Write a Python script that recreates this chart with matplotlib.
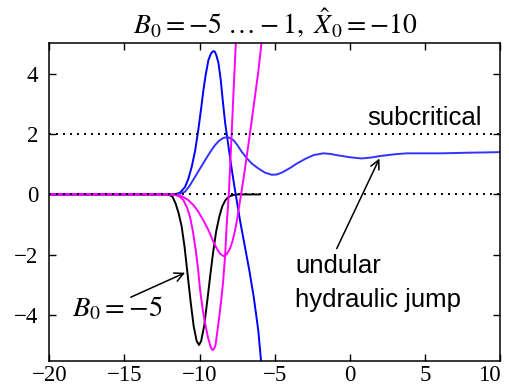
# Undular hydraulic jump curves for B0 = -5 ... -1, X0 = -10
import matplotlib
matplotlib.use('Agg')
import matplotlib.pyplot as plt

# curve values
# B0 = -5 (black)
x_b5 = [-20, -12.3, -12.0, -11.8, -11.6, -11.4, -11.2, -11.0, -10.8, -10.6, -10.4,
        -10.2, -10.04, -9.9, -9.7, -9.5, -9.3, -9.1, -8.9, -8.7, -8.5, -8.3,
        -8.1, -7.9, -7.6, -6.0]
y_b5 = [0, 0, -0.02, -0.08, -0.30, -0.62, -1.05, -1.75, -2.65, -3.55, -4.35,
        -4.85, -4.98, -4.85, -4.35, -3.55, -2.70, -1.90, -1.22, -0.75, -0.40, -0.20,
        -0.09, -0.04, 0.0, 0.0]

# B0 = -4 (magenta, deep trough)
x_b4 = [-20, -12.0, -11.6, -11.3, -11.08, -10.85, -10.64, -10.45, -10.26, -10.1,
        -9.97, -9.8, -9.64, -9.45, -9.31, -9.22, -9.13, -9.04, -8.95, -8.76, -8.6,
        -8.45, -8.31, -8.2, -8.06, -7.9, -7.75, -7.5]
y_b4 = [0, 0, -0.02, -0.08, -0.19, -0.42, -0.74, -1.22, -1.84, -2.5,
        -3.16, -3.8, -4.26, -4.72, -4.98, -5.1, -5.15, -5.1, -5.0, -4.3, -3.65,
        -2.95, -2.06, -1.0, 0.0, 1.7, 3.35, 6.0]

# B0 = -3 (magenta, shallow trough)
x_b3 = [-20, -12.0, -11.42, -11.1, -10.75, -10.4, -10.09, -9.75, -9.42, -9.1,
        -8.86, -8.65, -8.42, -8.2, -7.98, -7.8, -7.64, -7.5, -7.38, -7.2, -7.0,
        -6.7, -6.4, -6.1, -5.8]
y_b3 = [0, 0, -0.02, -0.08, -0.19, -0.36, -0.57, -0.86, -1.18, -1.55,
        -1.79, -1.96, -2.04, -1.98, -1.79, -1.52, -1.18, -0.80, -0.41, 0.14, 0.80,
        1.85, 2.95, 4.05, 5.4]

# B0 = -2 (blue, tall peak)
x_b2 = [-20, -12.0, -11.6, -11.3, -10.97, -10.75, -10.53, -10.3, -10.09, -9.9,
        -9.75, -9.6, -9.42, -9.25, -9.1, -9.0, -8.9, -8.75, -8.6, -8.45, -8.3, -8.1,
        -7.9, -7.7, -7.5, -7.3, -7.0, -6.7, -6.4, -6.1, -5.9]
y_b2 = [0, 0, 0.01, 0.06, 0.25, 0.52, 0.91, 1.45, 2.13, 2.85,
        3.45, 3.95, 4.44, 4.66, 4.74, 4.73, 4.62, 4.35, 3.8, 3.05, 2.35, 1.65,
        0.95, 0.3, -0.3, -0.9, -1.7, -2.5, -3.4, -4.5, -5.6]

# B0 = -1 (blue, undular jump)
x_b1 = [-20, -12.0, -11.6, -11.3, -10.97, -10.65, -10.31, -9.97, -9.64, -9.3,
        -8.98, -8.7, -8.42, -8.13, -7.76, -7.5, -7.2, -6.85, -6.53, -6.1, -5.65,
        -5.2, -4.87, -4.5, -4.0, -3.54, -3.0, -2.43, -1.77, -1.3, -0.88, 0.0,
        0.78, 1.4, 2.0, 3.0, 3.78, 5.0, 6.0, 7.0, 7.77, 9.0, 10.0]
y_b1 = [0, 0, 0.0, 0.03, 0.09, 0.30, 0.58, 0.86, 1.13, 1.40,
        1.63, 1.78, 1.87, 1.90, 1.80, 1.64, 1.41, 1.19, 1.02, 0.86, 0.72,
        0.65, 0.66, 0.73, 0.87, 1.02, 1.17, 1.30, 1.36, 1.34, 1.30, 1.23,
        1.19, 1.22, 1.27, 1.33, 1.36, 1.36, 1.36, 1.37, 1.38, 1.39, 1.40]

# reference levels (dotted)
levels = [0, 2]

x_ticks = [-20, -15, -10, -5, 0, 5, 10]
y_ticks = [-4, -2, 0, 2, 4]

plt.rcParams['font.family'] = ['Liberation Serif', 'DejaVu Serif']
plt.rcParams['mathtext.fontset'] = 'stix'

fig = plt.figure(figsize=(5.1, 3.87), dpi=100)
ax = fig.add_axes([0.0967, 0.068, 0.8843, 0.8201])

lw = 1.4
ax.plot(x_b5, y_b5, color='black', lw=lw)
ax.plot(x_b2, y_b2, color='#0000ff', lw=lw)
ax.plot(x_b1, y_b1, color='#3333ff', lw=lw)
ax.plot(x_b4, y_b4, color='#ff00ff', lw=lw)
ax.plot(x_b3, y_b3, color='#ff00ff', lw=lw)

for lev in levels:
    ax.axhline(lev, color='black', lw=1.4, linestyle=(0, (1, 2.6)))

ax.set_xlim(-20, 10)
ax.set_ylim(-5.5, 5)
ax.set_xticks(x_ticks)
ax.set_yticks(y_ticks)
ax.tick_params(direction='in', top=True, right=True, length=5, width=1.0,
               labelsize=16.5)
ax.tick_params(axis='x', pad=3)
ax.tick_params(axis='y', pad=8)
for sp in ax.spines.values():
    sp.set_linewidth(1.1)

# last x label pulled inside the figure, as in the original
fig.canvas.draw()
ax.get_xticklabels()[-1].set_horizontalalignment('right')

ax.set_title(r'$B_0 = -5\ \ldots -1,\ \hat{X}_0 = -10$', fontsize=20, pad=7)

# annotations
sans = 'Liberation Sans'
ax.text(1.12, 2.29, 'subcritical', family=sans, fontsize=18.5, va='baseline')
ax.text(-3.65, -2.60, 'undular', family=sans, fontsize=18.5, va='baseline')
ax.text(-3.65, -3.72, 'hydraulic jump', family=sans, fontsize=18.5, va='baseline')
ax.annotate('', xy=(1.96, 1.19), xytext=(-0.88, -1.79),
            arrowprops=dict(arrowstyle='->', lw=1.1, color='black', mutation_scale=16,
                            shrinkA=0, shrinkB=0))
ax.text(-18.51, -4.05, r'$B_0 = -5$', fontsize=20.5, va='baseline')
ax.annotate('', xy=(-10.97, -2.59), xytext=(-14.58, -3.40),
            arrowprops=dict(arrowstyle='->', lw=1.1, color='black', mutation_scale=16,
                            shrinkA=0, shrinkB=0))

fig.savefig('out.png', dpi=100)
